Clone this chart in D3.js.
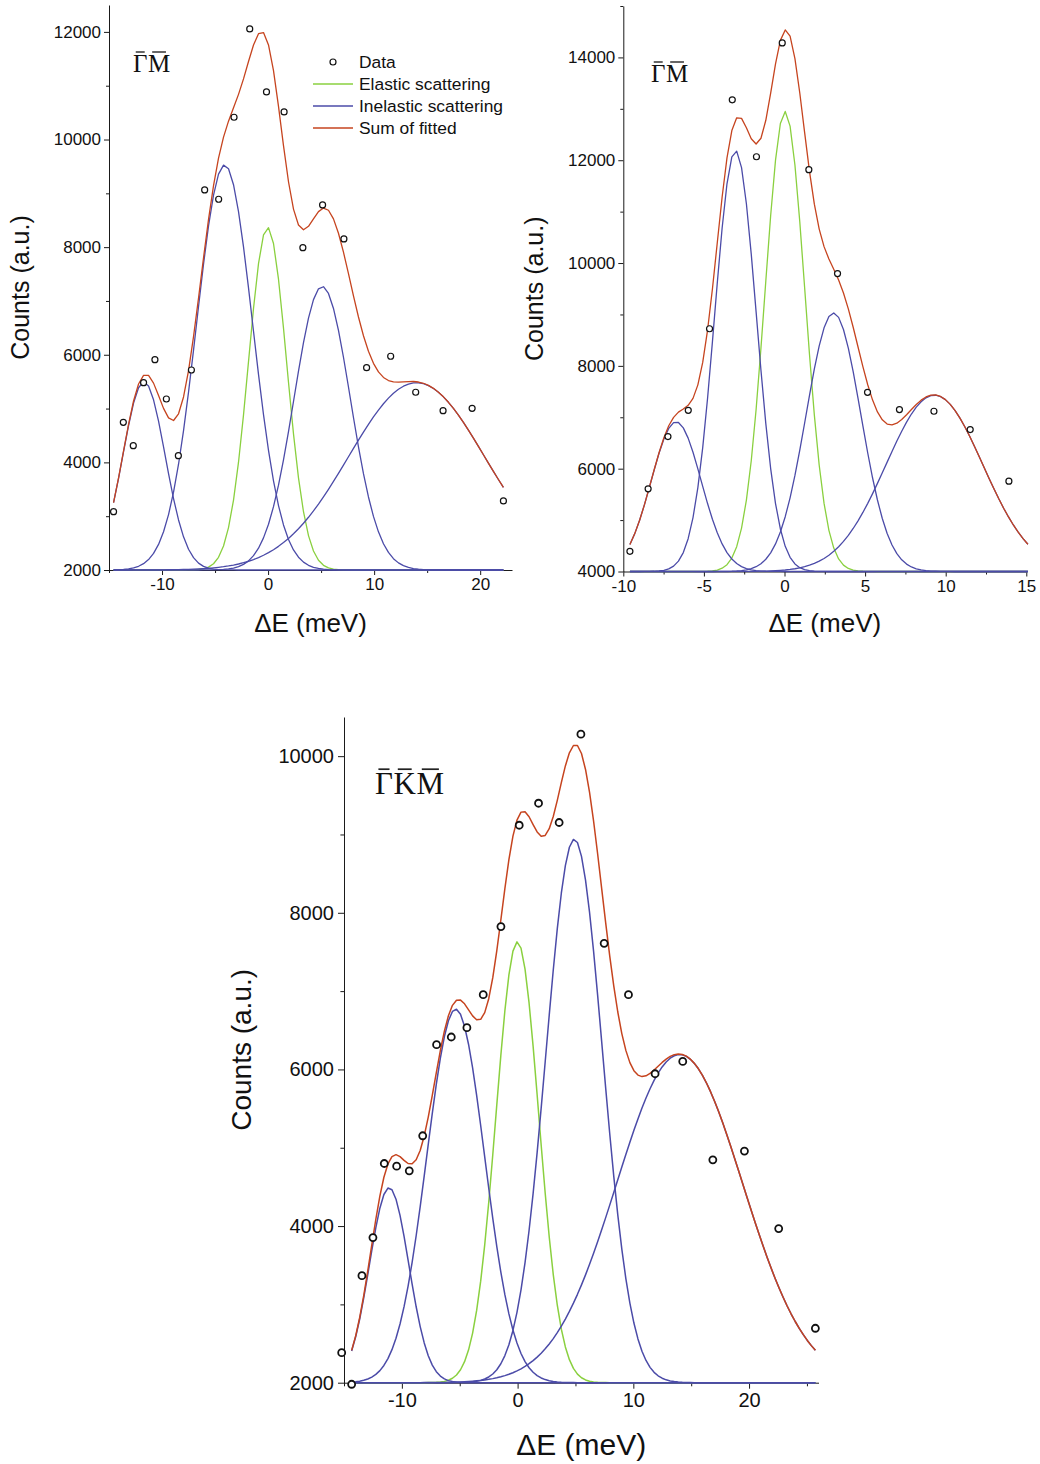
<!DOCTYPE html>
<html>
<head>
<meta charset="utf-8">
<script src="https://cdn.jsdelivr.net/npm/d3@7"></script>
<style>
  body { margin: 0; background: #fff; }
  svg { display: block; }
</style>
</head>
<body>
<svg id="fig" width="1040" height="1464"></svg>
<script>
// ---------------- measured spectra ----------------
// Panel 1: Gamma-M direction, first scan
const gm1Energy = [-14.57, -13.65, -12.71, -11.74, -10.67, -9.59, -8.46, -7.23, -5.98, -4.66, -3.21, -1.73,
                   -0.15, 1.51, 3.28, 5.14, 7.15, 9.29, 11.56, 13.92, 16.5, 19.24, 22.19];
const gm1Counts = [3084, 4745, 4311, 5482, 5909, 5178, 4125, 5717, 9063, 8890, 10414, 12056,
                   10885, 10513, 7991, 8784, 8152, 5760, 5972, 5303, 4961, 5005, 3283];

// Panel 2: Gamma-M direction, second scan
const gm2Energy = [-9.59, -8.46, -7.23, -5.97, -4.65, -3.24, -1.74, -0.14, 1.51, 3.29, 5.15, 7.13, 9.27, 11.52, 13.92];
const gm2Counts = [4392, 5608, 6625, 7136, 8722, 13175, 12068, 14282, 11816, 9796, 7485, 7149, 7117, 6761, 5757];

// Panel 3: Gamma-K-M direction
const gkmEnergy = [-15.2, -14.34, -13.45, -12.5, -11.52, -10.45, -9.36, -8.2, -7.0, -5.73, -4.38, -2.97, -1.44,
                   0.14, 1.81, 3.59, 5.47, 7.48, 9.58, 11.88, 14.27, 16.87, 19.6, 22.56, 25.73];
const gkmCounts = [2383, 1980, 3367, 3853, 4799, 4765, 4705, 5153, 6316, 6414, 6533, 6955, 7824,
                   9118, 9399, 9153, 10281, 7610, 6955, 5945, 6102, 4846, 4957, 3968, 2695];

// ---------------- Gaussian fit results ----------------
// background level, peak centres (meV), peak tops (counts), sigmas (meV)
const gm1Background = 2000;
const gm1ElasticFit   = { center: -0.05, top: 8370, sigma: 1.8 };
const gm1InelCenters  = [-11.7, -4.1, 5.1, 14.0];
const gm1InelTops     = [5500, 9530, 7270, 5480];
const gm1InelSigmas   = [2.0, 2.65, 2.65, 6.4];

const gm2Background = 4000;
const gm2ElasticFit   = { center: 0.03, top: 12950, sigma: 1.24 };
const gm2InelCenters  = [-6.72, -3.04, 3.04, 9.3];
const gm2InelTops     = [6910, 12190, 9030, 7430];
const gm2InelSigmas   = [1.55, 1.3, 1.7, 3.0];

const gkmBackground = 2000;
const gkmElasticFit   = { center: -0.02, top: 7630, sigma: 1.85 };
const gkmInelCenters  = [-11.1, -5.35, 4.9, 14.0];
const gkmInelTops     = [4490, 6770, 8940, 6190];
const gkmInelSigmas   = [1.7, 2.5, 2.45, 5.45];

// ---------------- axis ticks ----------------
const gm1XMajor = [-10, 0, 10, 20];
const gm1XMinor = [-15, -5, 5, 15];
const gm1YMajor = [2000, 4000, 6000, 8000, 10000, 12000];
const gm1YMinor = [3000, 5000, 7000, 9000, 11000];

const gm2XMajor = [-10, -5, 0, 5, 10, 15];
const gm2XMinor = [-7.5, -2.5, 2.5, 7.5, 12.5];
const gm2YMajor = [4000, 6000, 8000, 10000, 12000, 14000];
const gm2YMinor = [5000, 7000, 9000, 11000, 13000, 15000];

const gkmXMajor = [-10, 0, 10, 20];
const gkmXMinor = [-15, -5, 5, 15, 25];
const gkmYMajor = [2000, 4000, 6000, 8000, 10000];
const gkmYMinor = [3000, 5000, 7000, 9000];

const legendLabels = ["Data", "Elastic scattering", "Inelastic scattering", "Sum of fitted"];

// ---------------- drawing ----------------
const COLOR = { sum: "#c6441f", elastic: "#8ad03f", inelastic: "#4b4ba8", axis: "#1a1a1a" };
const SANS = "'Liberation Sans', Arial, Helvetica, sans-serif";
const SERIF = "'Liberation Serif', 'Times New Roman', serif";
const svg = d3.select("#fig");
svg.append("rect").attr("width", 1040).attr("height", 1464).attr("fill", "#fff");

function gaussian(e, c, h, s) { return h * Math.exp(-((e - c) * (e - c)) / (2 * s * s)); }

function drawPanel(p) {
  const x = d3.scaleLinear().domain(p.xDomain).range([p.left, p.right]);
  const y = d3.scaleLinear().domain(p.yDomain).range([p.bottom, p.top]);
  const g = svg.append("g");

  // energy grid on which the fitted model is evaluated
  const grid = d3.range(p.samples + 1).map(i => p.curveRange[0] + (p.curveRange[1] - p.curveRange[0]) * i / p.samples);
  const comps = [];
  comps.push({ kind: "elastic", c: p.elastic.center, h: p.elastic.top - p.base, s: p.elastic.sigma });
  p.inelCenters.forEach((c, i) => comps.push({ kind: "inelastic", c, h: p.inelTops[i] - p.base, s: p.inelSigmas[i] }));

  const line = d3.line().x(d => x(d[0])).y(d => y(d[1]));

  // axes
  const fmt = d => String(d);
  const ax = g.append("g").attr("font-family", SANS);
  ax.append("g").attr("transform", `translate(0,${p.bottom})`)
    .call(d3.axisBottom(x).tickValues(p.xMajor).tickSize(p.tickLen).tickSizeOuter(0).tickPadding(p.tickPad).tickFormat(fmt));
  ax.append("g").attr("transform", `translate(0,${p.bottom})`)
    .call(d3.axisBottom(x).tickValues(p.xMinor).tickSize(p.tickLen * 0.6).tickSizeOuter(0).tickFormat(""))
    .select(".domain").remove();
  ax.append("g").attr("transform", `translate(${p.left},0)`)
    .call(d3.axisLeft(y).tickValues(p.yMajor).tickSize(p.tickLen).tickSizeOuter(0).tickPadding(p.tickPad).tickFormat(fmt));
  ax.append("g").attr("transform", `translate(${p.left},0)`)
    .call(d3.axisLeft(y).tickValues(p.yMinor).tickSize(p.tickLen * 0.6).tickSizeOuter(0).tickFormat(""))
    .select(".domain").remove();
  ax.selectAll("path, line").attr("stroke", COLOR.axis).attr("stroke-width", 1);
  ax.selectAll("text").attr("font-size", p.tickFont).attr("fill", "#111").attr("font-family", SANS);

  // fitted components
  const curves = g.append("g").attr("fill", "none").attr("stroke-linejoin", "round");
  comps.filter(c => c.kind === "elastic").concat(comps.filter(c => c.kind === "inelastic")).forEach(c => {
    curves.append("path")
      .datum(grid.map(e => [e, p.base + gaussian(e, c.c, c.h, c.s)]))
      .attr("d", line)
      .attr("stroke", COLOR[c.kind]).attr("stroke-width", p.lineW);
  });
  // sum of fitted components
  curves.append("path")
    .datum(grid.map(e => [e, p.base + d3.sum(comps, c => gaussian(e, c.c, c.h, c.s))]))
    .attr("d", line)
    .attr("stroke", COLOR.sum).attr("stroke-width", p.lineW);

  // measured points
  g.append("g").selectAll("circle").data(p.energy.map((e, i) => [e, p.counts[i]])).join("circle")
    .attr("cx", d => x(d[0])).attr("cy", d => y(d[1])).attr("r", p.dotR)
    .attr("fill", "#fff").attr("stroke", "#111").attr("stroke-width", p.dotW);

  // axis titles
  g.append("text").attr("x", (p.left + p.right) / 2).attr("y", p.xTitleY)
    .attr("text-anchor", "middle").attr("font-family", SANS).attr("font-size", p.xTitleFont).attr("fill", "#111")
    .text("\u0394E (meV)");
  g.append("text").attr("transform", `translate(${p.yTitleX},${(p.top + p.bottom) / 2}) rotate(-90)`)
    .attr("text-anchor", "middle").attr("font-family", SANS).attr("font-size", p.yTitleFont).attr("fill", "#111")
    .text("Counts (a.u.)");

  // direction label with overbars on each symmetry point
  const tg = g.append("g");
  let cx = p.titleX;
  p.title.forEach(ch => {
    const t = tg.append("text").attr("x", cx).attr("y", p.titleY)
      .attr("font-family", SERIF).attr("font-size", p.titleFont).attr("fill", "#111").text(ch);
    const w = t.node().getComputedTextLength();
    const barW = w * 0.62;
    tg.append("line")
      .attr("x1", cx + (w - barW) / 2).attr("x2", cx + (w + barW) / 2)
      .attr("y1", p.titleY - p.titleFont * 0.8).attr("y2", p.titleY - p.titleFont * 0.8)
      .attr("stroke", "#222").attr("stroke-width", p.titleFont * 0.055);
    cx += w + p.titleFont * 0.02;
  });

  return { x, y, g };
}

const panel1 = drawPanel({
  energy: gm1Energy, counts: gm1Counts, base: gm1Background,
  elastic: gm1ElasticFit, inelCenters: gm1InelCenters, inelTops: gm1InelTops, inelSigmas: gm1InelSigmas,
  xDomain: [-15, 23], yDomain: [2000, 12500], left: 109, right: 512, top: 5, bottom: 570,
  curveRange: [gm1Energy[0], gm1Energy[gm1Energy.length - 1]], samples: 78,
  xMajor: gm1XMajor, xMinor: gm1XMinor, yMajor: gm1YMajor, yMinor: gm1YMinor,
  tickLen: 5, tickPad: 3, tickFont: 17, lineW: 1.3, dotR: 3, dotW: 1.2,
  xTitleY: 632, xTitleFont: 26, yTitleX: 29, yTitleFont: 25,
  title: ["\u0393", "M"], titleX: 133, titleY: 72, titleFont: 25
});

const panel2 = drawPanel({
  energy: gm2Energy, counts: gm2Counts, base: gm2Background,
  elastic: gm2ElasticFit, inelCenters: gm2InelCenters, inelTops: gm2InelTops, inelSigmas: gm2InelSigmas,
  xDomain: [-10, 15], yDomain: [4000, 15000], left: 623.3, right: 1026.3, top: 6, bottom: 571.5,
  curveRange: [gm2Energy[0], 15.1], samples: 82,
  xMajor: gm2XMajor, xMinor: gm2XMinor, yMajor: gm2YMajor, yMinor: gm2YMinor,
  tickLen: 5, tickPad: 3, tickFont: 17, lineW: 1.3, dotR: 3, dotW: 1.2,
  xTitleY: 632, xTitleFont: 26, yTitleX: 543, yTitleFont: 25,
  title: ["\u0393", "M"], titleX: 651, titleY: 82, titleFont: 25
});

const panel3 = drawPanel({
  energy: gkmEnergy, counts: gkmCounts, base: gkmBackground,
  elastic: gkmElasticFit, inelCenters: gkmInelCenters, inelTops: gkmInelTops, inelSigmas: gkmInelSigmas,
  xDomain: [-15, 26], yDomain: [2000, 10500], left: 344, right: 818.5, top: 717, bottom: 1382.7,
  curveRange: [gkmEnergy[1], gkmEnergy[gkmEnergy.length - 1]], samples: 115,
  xMajor: gkmXMajor, xMinor: gkmXMinor, yMajor: gkmYMajor, yMinor: gkmYMinor,
  tickLen: 6, tickPad: 4, tickFont: 20, lineW: 1.5, dotR: 3.5, dotW: 1.8,
  xTitleY: 1455, xTitleFont: 30, yTitleX: 251, yTitleFont: 28,
  title: ["\u0393", "K", "M"], titleX: 375, titleY: 794, titleFont: 31
});

// legend (first panel)
const lg = panel1.g.append("g").attr("font-family", SANS).attr("font-size", 17.4).attr("fill", "#111");
const legendKinds = ["data", "elastic", "inelastic", "sum"];
legendLabels.forEach((label, i) => {
  const cy = 62 + i * 22;
  if (legendKinds[i] === "data") {
    lg.append("circle").attr("cx", 333).attr("cy", cy).attr("r", 3)
      .attr("fill", "#fff").attr("stroke", "#111").attr("stroke-width", 1.2);
  } else {
    lg.append("line").attr("x1", 313).attr("x2", 353).attr("y1", cy).attr("y2", cy)
      .attr("stroke", COLOR[legendKinds[i]]).attr("stroke-width", 1.3);
  }
  lg.append("text").attr("x", 359).attr("y", cy + 6).text(label);
});
</script>
</body>
</html>
